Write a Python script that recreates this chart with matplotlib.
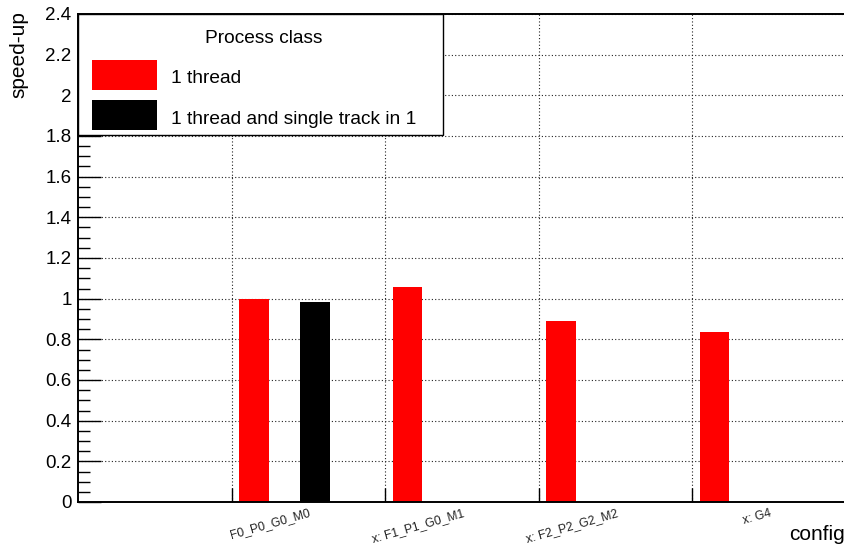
''' speed-up per configuration, drawn as ROOT-style bar chart '''
import matplotlib
matplotlib.use('Agg')
import matplotlib.pyplot as plt
from matplotlib.patches import Rectangle
from matplotlib.ticker import MultipleLocator, FuncFormatter, FixedLocator

plt.rcParams['font.family'] = ['Liberation Sans', 'DejaVu Sans']

configs = ['F0_P0_G0_M0', 'x: F1_P1_G0_M1', 'x: F2_P2_G2_M2', 'x: G4']
single_thread = [1.0, 1.055, 0.892, 0.838]
single_track = [0.986, None, None, None]
series_names = ['1 thread', '1 thread and single track in 1']
series_colors = ['#ff0000', 'black']

BAR_W = 0.195
RED_OFF = 0.046
BLACK_OFF = 0.443

W, H = 845.0, 547.0
fig = plt.figure(figsize=(W / 100, H / 100), dpi=100)
ax = fig.add_axes([78.5 / W, 45 / H, (846 - 78.5) / W, (502 - 14) / H])


def px(x, y):
    # pixel position (from top-left) -> figure fraction
    return x / W, 1 - y / H


# bins start at 1, one per config
bin_start = [i + 1 for i in range(len(configs))]
ax.bar([b + RED_OFF for b in bin_start], single_thread, width=BAR_W,
       align='edge', color=series_colors[0], zorder=2)
blk_x = [b + BLACK_OFF for b, v in zip(bin_start, single_track) if v is not None]
blk_y = [v for v in single_track if v is not None]
ax.bar(blk_x, blk_y, width=BAR_W, align='edge', color=series_colors[1],
       zorder=2)

ax.set_xlim(0, 5)
ax.set_ylim(0, 2.4)

# y axis: ticks inside, majors every 0.2, 3 minors between
ax.yaxis.set_major_locator(MultipleLocator(0.2))
ax.yaxis.set_minor_locator(MultipleLocator(0.05))
ax.yaxis.set_major_formatter(FuncFormatter(lambda v, p: '%g' % round(v, 2)))
ax.tick_params(axis='y', which='major', direction='in', length=16.5,
               width=1.0, labelsize=13.5, pad=5)
ax.tick_params(axis='y', which='minor', direction='in', length=8.5, width=1.0)

# x axis: ticks at bin edges, labels right-aligned at bin centres
ax.xaxis.set_major_locator(FixedLocator(bin_start))
ax.set_xticklabels([])
ax.tick_params(axis='x', which='major', direction='in', length=10, width=1.0)
for b, name in zip(bin_start, configs):
    ax.annotate(name, xy=(b + 0.5, 0), xycoords=('data', 'axes fraction'),
                xytext=(0, -3.5), textcoords='offset points',
                ha='right', va='top', rotation=16, rotation_mode='anchor',
                fontsize=8.7, color='#222222', annotation_clip=False)

ax.set_axisbelow(True)
ax.grid(True, which='major', linestyle=(0, (1, 2)), linewidth=0.8,
        color='#222222')

for side in ['left', 'top', 'bottom']:
    ax.spines[side].set_linewidth(1.4)
ax.spines['right'].set_visible(False)

fig.text(*px(19, 11), 'speed-up', rotation=90, ha='center', va='top',
         fontsize=15)
fig.text(1.0, 1 - 540 / H, 'config', ha='right', va='baseline', fontsize=15)

# legend box in the top-left corner of the frame
x0, y0 = px(78.5, 135)
x1, y1 = px(443, 14)
fig.patches.append(Rectangle((x0, y0), x1 - x0, y1 - y0, transform=fig.transFigure,
                             facecolor='white', edgecolor='black', linewidth=1.0,
                             zorder=5))
fig.text(*px(264, 43), 'Process class', ha='center', va='baseline',
         fontsize=13.8, zorder=6)
for i, (name, col) in enumerate(zip(series_names, series_colors)):
    top = 60 + 40 * i
    bx, by = px(92, top + 29.5)
    fig.patches.append(Rectangle((bx, by), 65 / W, 29.5 / H,
                                 transform=fig.transFigure, facecolor=col,
                                 edgecolor='none', zorder=6))
    fig.text(*px(171, 83 + 41 * i), name, ha='left', va='baseline',
             fontsize=13.8, zorder=6)

fig.savefig('out.png', dpi=100)
